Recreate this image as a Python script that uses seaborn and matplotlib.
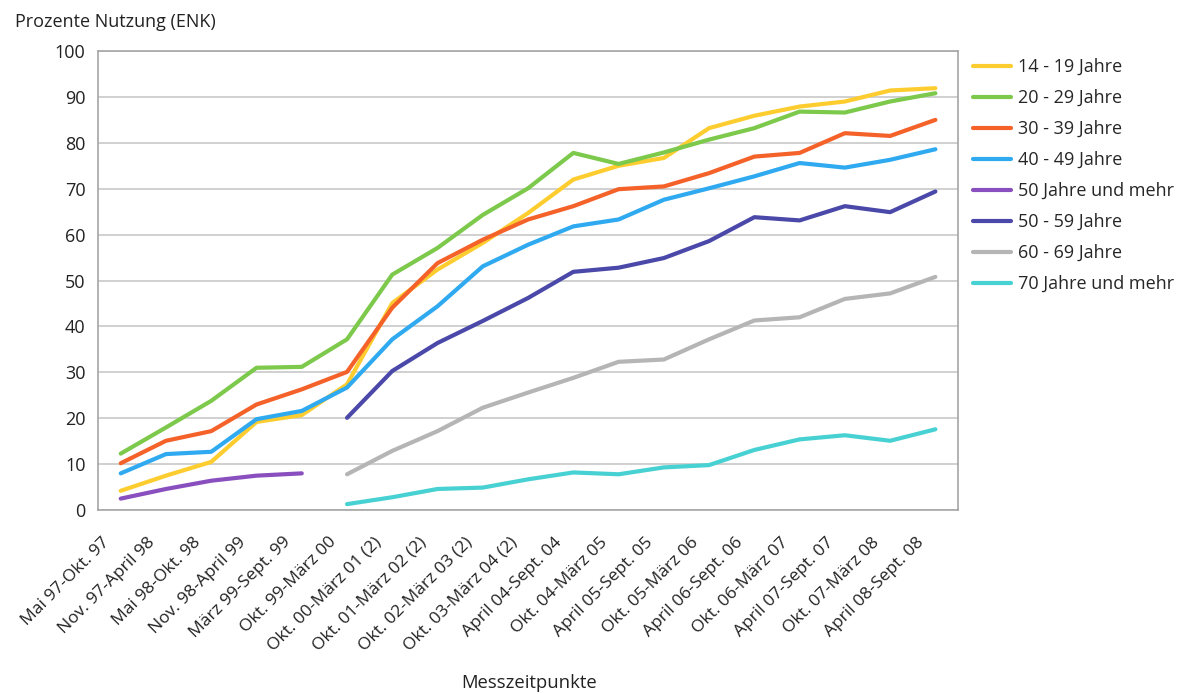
#!/usr/bin/env python3

import numpy as np
import pandas as pd
import matplotlib
matplotlib.use('Agg')
import matplotlib.pyplot as plt
import matplotlib.transforms as mtransforms
import seaborn as sns

# Messzeitpunkte (x categories)
zeitpunkte = [
    'Mai 97-Okt. 97', 'Nov. 97-April 98', 'Mai 98-Okt. 98', 'Nov. 98-April 99',
    'März 99-Sept. 99', 'Okt. 99-März 00', 'Okt. 00-März 01 (2)', 'Okt. 01-März 02 (2)',
    'Okt. 02-März 03 (2)', 'Okt. 03-März 04 (2)', 'April 04-Sept. 04', 'Okt. 04-März 05',
    'April 05-Sept. 05', 'Okt. 05-März 06', 'April 06-Sept. 06', 'Okt. 06-März 07',
    'April 07-Sept. 07', 'Okt. 07-März 08', 'April 08-Sept. 08',
]

nan = np.nan
j14_19 = [4.2, 7.5, 10.5, 19.2, 20.7, 27.4, 45.1, 52.4, 58.2, 64.7, 72.0, 75.0, 76.7,
          83.2, 85.9, 87.9, 89.0, 91.4, 91.9]
j20_29 = [12.3, 18.0, 23.8, 31.0, 31.2, 37.2, 51.3, 57.1, 64.3, 70.1, 77.8, 75.4, 77.9,
          80.7, 83.2, 86.8, 86.6, 89.0, 90.8]
j30_39 = [10.2, 15.1, 17.2, 23.0, 26.3, 30.1, 44.1, 53.8, 58.9, 63.3, 66.2, 69.9, 70.5,
          73.4, 77.0, 77.8, 82.1, 81.5, 85.0]
j40_49 = [8.0, 12.2, 12.7, 19.8, 21.6, 26.7, 37.2, 44.4, 53.1, 57.8, 61.8, 63.3, 67.6,
          70.1, 72.7, 75.6, 74.6, 76.3, 78.6]
j50_plus = [2.5, 4.6, 6.4, 7.5, 8.0] + [nan] * 14
j50_59 = [nan] * 5 + [20.1, 30.3, 36.4, 41.2, 46.2, 51.9, 52.8, 54.9,
                      58.6, 63.8, 63.1, 66.2, 64.9, 69.4]
j60_69 = [nan] * 5 + [7.8, 12.9, 17.2, 22.3, 25.6, 28.8, 32.3, 32.8,
                      37.2, 41.3, 42.0, 46.0, 47.2, 50.8]
j70_plus = [nan] * 5 + [1.3, 2.8, 4.6, 4.9, 6.7, 8.2, 7.8, 9.3,
                        9.8, 13.1, 15.4, 16.3, 15.1, 17.6]

gruppen = ['14 - 19 Jahre', '20 - 29 Jahre', '30 - 39 Jahre', '40 - 49 Jahre',
           '50 Jahre und mehr', '50 - 59 Jahre', '60 - 69 Jahre', '70 Jahre und mehr']
farben = ['#FDCD2F', '#7CC94B', '#F4622A', '#2FAAF0', '#8A4FBF', '#4A48A8', '#B5B5B5', '#48D1D3']

werte = [j14_19, j20_29, j30_39, j40_49, j50_plus, j50_59, j60_69, j70_plus]
rows = []
for g, w in zip(gruppen, werte):
    for i, v in enumerate(w):
        rows.append({'idx': i, 'wert': v, 'gruppe': g})
df = pd.DataFrame(rows).dropna()

sns.set_style('white')
plt.rcParams['font.family'] = ['Open Sans', 'DejaVu Sans']

fig = plt.figure(figsize=(11.82, 6.94), dpi=100)
ax = fig.add_axes([0.083, 0.265, 0.7275, 0.6615])

sns.lineplot(data=df, x='idx', y='wert', hue='gruppe', hue_order=gruppen,
             palette=dict(zip(gruppen, farben)), linewidth=3, sort=False,
             estimator=None, ax=ax)

ax.set_xlim(-0.5, len(zeitpunkte) - 0.5)
ax.set_ylim(0, 100)
ax.set_yticks(range(0, 101, 10))
ax.yaxis.grid(True, color='#C8C8C8', linewidth=1.2)
ax.set_axisbelow(True)
for s in ax.spines.values():
    s.set_color('#A6A6A6')
    s.set_linewidth(1.2)

ax.set_xticks(range(len(zeitpunkte)))
ax.set_xticklabels(zeitpunkte, rotation=45, ha='right', va='top',
                   rotation_mode='anchor', fontsize=12.5, color='#222222')
ax.set_xticks(np.arange(-0.5, len(zeitpunkte), 1), minor=True)
ax.tick_params(axis='x', which='major', length=0, pad=8)
ax.tick_params(axis='x', which='minor', length=5, color='#A6A6A6', width=1.2)
ax.tick_params(axis='y', length=5, color='#A6A6A6', width=1.2, labelsize=13,
               labelcolor='#222222', pad=4)
off = mtransforms.ScaledTranslation(-0.19, -0.13, fig.dpi_scale_trans)
for lab in ax.get_xticklabels():
    lab.set_transform(lab.get_transform() + off)

ax.set_xlabel('')
ax.set_ylabel('')
fig.text(0.013, 0.968, 'Prozente Nutzung (ENK)', fontsize=13, color='#222222',
         ha='left', va='center')
fig.text(0.448, 0.016, 'Messzeitpunkte', fontsize=13.3, color='#222222',
         ha='center', va='center')

handles, labels = ax.get_legend_handles_labels()
ax.legend(handles, labels, loc='upper left', bbox_to_anchor=(1.005, 1.008),
          frameon=False, fontsize=13, handlelength=2.1, handletextpad=0.4,
          labelspacing=0.72, borderaxespad=0.2)

fig.savefig('out.png', dpi=100)
